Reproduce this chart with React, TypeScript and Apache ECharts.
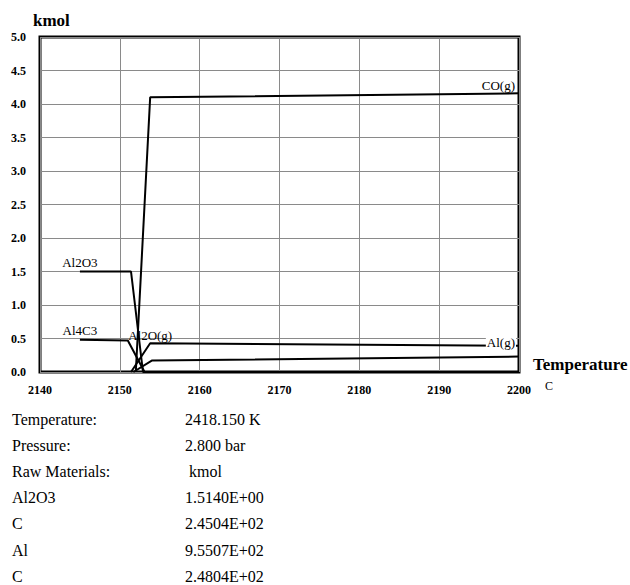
import React, { useEffect, useRef } from "react";
import * as echarts from "echarts";

const xTicks = [2140, 2150, 2160, 2170, 2180, 2190, 2200];
const yTicks = [0, 0.5, 1, 1.5, 2, 2.5, 3, 3.5, 4, 4.5, 5];

const al2o3 = [[2145, 1.5], [2151.4, 1.5], [2152.9, 0], [2200, 0]];
const al4c3 = [[2145, 0.48], [2151.0, 0.47], [2153.1, 0], [2200, 0]];
const al2og = [[2151.4, 0], [2153.8, 0.43], [2200, 0.39]];
const alg = [[2151.7, 0], [2154.0, 0.17], [2200, 0.23]];
const cog = [[2152.0, 0], [2153.8, 4.1], [2200, 4.16]];

const infoLabels = ["Temperature:", "Pressure:", "Raw Materials:", "Al2O3", "C", "Al", "C"];
const infoValues = ["2418.150 K", "2.800 bar", " kmol", "1.5140E+00", "2.4504E+02", "9.5507E+02", "2.4804E+02"];

const FONT = "'Liberation Serif', 'DejaVu Serif', serif";

function mk(name: string, data: number[][], labelPt: number[], label: any) {
  return {
    type: "line",
    name,
    data,
    symbol: "none",
    lineStyle: { color: "#000", width: 2 },
    markPoint: {
      symbol: "circle",
      symbolSize: 0,
      silent: true,
      data: [
        {
          coord: labelPt,
          label: {
            show: true,
            formatter: name,
            color: "#000",
            fontFamily: FONT,
            fontSize: 13,
            ...label,
          },
        },
      ],
    },
  };
}

export default function App() {
  const ref = useRef<HTMLDivElement>(null);
  useEffect(() => {
    const chart = echarts.init(ref.current!, null, { renderer: "svg" });
    const graphics: any[] = [
      { type: "text", left: 33, top: 12, style: { text: "kmol", font: `bold 17px ${FONT}`, fill: "#000" } },
      { type: "text", left: 533, top: 356, style: { text: "Temperature", font: `bold 17px ${FONT}`, fill: "#000" } },
      { type: "text", left: 545, top: 380, style: { text: "C", font: `12px ${FONT}`, fill: "#000" } },
    ];
    infoLabels.forEach((t, i) => {
      graphics.push({ type: "text", left: 12, top: 411 + i * 26.2, style: { text: t, font: `16px ${FONT}`, fill: "#000" } });
      graphics.push({ type: "text", left: 185, top: 411 + i * 26.2, style: { text: infoValues[i], font: `16px ${FONT}`, fill: "#000" } });
    });
    chart.setOption({
      animation: false,
      backgroundColor: "#fff",
      grid: {
        left: 40,
        right: 111,
        top: 37,
        bottom: 213,
        show: true,
        borderColor: "#000",
        borderWidth: 3,
      },
      xAxis: {
        type: "value",
        min: xTicks[0],
        max: xTicks[xTicks.length - 1],
        interval: 10,
        axisLine: { show: false },
        axisTick: { show: false },
        splitLine: { show: true, lineStyle: { color: "#8a8a8a", width: 1 } },
        axisLabel: {
          fontFamily: FONT,
          fontSize: 12,
          fontWeight: "bold",
          color: "#000",
          margin: 12,
          formatter: (v: number) => String(v),
        },
      },
      yAxis: {
        type: "value",
        min: yTicks[0],
        max: yTicks[yTicks.length - 1],
        interval: 0.5,
        axisLine: { show: false },
        axisTick: { show: false },
        splitLine: { show: true, lineStyle: { color: "#8a8a8a", width: 1 } },
        axisLabel: {
          fontFamily: FONT,
          fontSize: 12,
          fontWeight: "bold",
          color: "#000",
          margin: 14,
          formatter: (v: number) => v.toFixed(1),
        },
      },
      graphic: graphics,
      series: [
        mk("Al2O3", al2o3, al2o3[0], { position: "top", distance: 3 }),
        mk("Al4C3", al4c3, al4c3[0], { position: "top", distance: 3 }),
        mk("Al2O(g)", al2og, al2og[1], { position: "top", distance: 1 }),
        mk("Al(g)", alg, alg[2], {
          position: "top",
          align: "right",
          distance: 2,
          offset: [-3, -6],
          backgroundColor: "#fff",
          padding: [0, 1, 0, 1],
        }),
        mk("CO(g)", cog, cog[2], { position: "top", align: "right", distance: 1, offset: [-4, 0] }),
      ],
    });
    return () => chart.dispose();
  }, []);
  return <div ref={ref} style={{ position: "absolute", left: 0, top: 0, width: 630, height: 585 }} />;
}
